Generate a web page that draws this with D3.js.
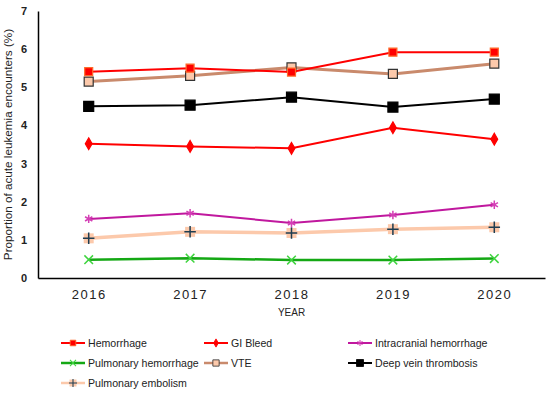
<!DOCTYPE html>
<html>
<head>
<meta charset="utf-8">
<script src="https://cdn.jsdelivr.net/npm/d3@7"></script>
<style>
  body { margin: 0; background: #fff; }
  text { font-family: Arial, 'Liberation Sans', sans-serif; }
</style>
</head>
<body>
<svg id="chart" width="550" height="393"></svg>
<script>
'use strict';

// chart data
const years = ['2016', '2017', '2018', '2019', '2020'];
const yTicks = [0, 1, 2, 3, 4, 5, 6, 7];

const hemorrhage = [5.41, 5.5, 5.4, 5.92, 5.92];
const giBleed = [3.52, 3.45, 3.4, 3.94, 3.64];
const intracranial = [1.55, 1.7, 1.44, 1.65, 1.92];
const pulmonaryHem = [0.48, 0.52, 0.47, 0.47, 0.51];
const vte = [5.15, 5.3, 5.52, 5.35, 5.62];
const dvt = [4.5, 4.53, 4.74, 4.48, 4.69];
const pulmonaryEmb = [1.04, 1.21, 1.18, 1.28, 1.33];

const series = [
  { name: 'Hemorrhage', values: hemorrhage, line: '#ff0000', width: 2,
    sym: d3.symbolSquare, size: 64, fill: '#ff0000', stroke: '#ff6a2a' },
  { name: 'GI Bleed', values: giBleed, line: '#ff0000', width: 2,
    sym: d3.symbolDiamond, size: 40, fill: '#ff0000', stroke: '#ff0000' },
  { name: 'Intracranial hemorrhage', values: intracranial, line: '#c0189e', width: 2,
    sym: d3.symbolAsterisk, size: 50, fill: 'none', stroke: '#d43fb5', open: true },
  { name: 'Pulmonary hemorrhage', values: pulmonaryHem, line: '#14a814', width: 2.5,
    sym: d3.symbolTimes, size: 50, fill: 'none', stroke: '#3fd43f', open: true },
  { name: 'VTE', values: vte, line: '#c98a6c', width: 3,
    sym: d3.symbolSquare, size: 81, fill: '#fcc9ab', stroke: '#333333' },
  { name: 'Deep vein thrombosis', values: dvt, line: '#000000', width: 2,
    sym: d3.symbolSquare, size: 100, fill: '#000000', stroke: '#000000' },
  { name: 'Pulmonary embolism', values: pulmonaryEmb, line: '#fcc9ab', width: 3.5,
    sym: d3.symbolPlus, size: 45, fill: 'none', stroke: '#1f3d50', open: true, bg: '#fcc9ab' },
];

const svg = d3.select('#chart');
const margin = { top: 11, right: 5, bottom: 115, left: 38 };
const width = 550 - margin.left - margin.right;
const height = 393 - margin.top - margin.bottom;

const g = svg.append('g')
  .attr('transform', 'translate(' + margin.left + ',' + margin.top + ')');

const xScale = d3.scalePoint().domain(years).range([0, width]).padding(0.5);
const yScale = d3.scaleLinear().domain([0, 7]).range([height, 0]);

// axes
g.append('g')
  .attr('transform', 'translate(0,' + height + ')')
  .call(d3.axisBottom(xScale).tickSize(0).tickPadding(12))
  .call((a) => {
    a.select('.domain').attr('stroke', '#000').attr('stroke-width', 1.5);
    a.selectAll('text')
      .attr('font-size', 13)
      .attr('letter-spacing', '1.5px')
      .attr('fill', '#222')
      .attr('font-family', 'Arial, Liberation Sans, sans-serif');
  });

g.append('g')
  .call(d3.axisLeft(yScale).tickValues(yTicks).tickFormat(d3.format('d'))
    .tickSize(0).tickPadding(11))
  .call((a) => {
    a.select('.domain').attr('stroke', '#000').attr('stroke-width', 1.5);
    a.selectAll('text')
      .attr('font-size', 11)
      .attr('font-weight', 'bold')
      .attr('fill', '#222')
      .attr('font-family', 'Arial, Liberation Sans, sans-serif');
  });

// axis titles
svg.append('text')
  .attr('x', xScale('2018') + margin.left)
  .attr('y', 316)
  .attr('text-anchor', 'middle')
  .attr('font-size', 10)
  .attr('fill', '#222')
  .text('YEAR');

svg.append('text')
  .attr('transform', 'translate(12,' + (margin.top + height / 2) + ') rotate(-90)')
  .attr('text-anchor', 'middle')
  .attr('font-size', 11.7)
  .attr('fill', '#222')
  .text('Proportion of acute leukemia encounters (%)');

// lines
const line = d3.line()
  .x((d, i) => xScale(years[i]))
  .y((d) => yScale(d));

const drawOrder = [6, 3, 2, 1, 5, 4, 0];

function drawMarker(sel, s) {
  if (s.bg) {
    sel.append('rect')
      .attr('x', -5).attr('y', -5).attr('width', 10).attr('height', 10)
      .attr('fill', s.bg);
  }
  sel.append('path')
    .attr('d', d3.symbol().type(s.sym).size(s.size)())
    .attr('fill', s.open ? 'none' : s.fill)
    .attr('stroke', s.stroke)
    .attr('stroke-width', s.open ? 1.5 : 1.2);
}

drawOrder.forEach((k) => {
  const s = series[k];
  const sg = g.append('g').attr('class', 'series');
  sg.append('path')
    .attr('d', line(s.values))
    .attr('fill', 'none')
    .attr('stroke', s.line)
    .attr('stroke-width', s.width);
  s.values.forEach((v, i) => {
    const m = sg.append('g')
      .attr('transform', 'translate(' + xScale(years[i]) + ',' + yScale(v) + ')');
    drawMarker(m, s);
  });
});

// legend
const legCols = [61, 204, 348];
const legRows = [343, 363, 383];
series.forEach((s, i) => {
  const lg = svg.append('g')
    .attr('transform', 'translate(' + legCols[i % 3] + ',' + legRows[Math.floor(i / 3)] + ')');
  lg.append('line')
    .attr('x1', 0).attr('x2', 24)
    .attr('stroke', s.line)
    .attr('stroke-width', Math.min(s.width, 2.5));
  const m = lg.append('g').attr('transform', 'translate(12,0) scale(0.7)');
  drawMarker(m, s);
  lg.append('text')
    .attr('x', 27)
    .attr('y', 4)
    .attr('font-size', 10.6)
    .attr('fill', '#222')
    .text(s.name);
});
</script>
</body>
</html>
